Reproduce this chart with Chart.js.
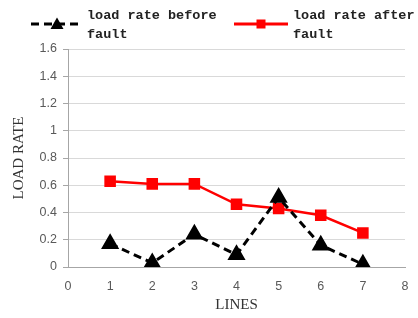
<!DOCTYPE html>
<html>
<head>
<meta charset="utf-8">
<script src="https://cdn.jsdelivr.net/npm/chart.js@4"></script>
<style>
  html, body { margin: 0; padding: 0; background: #fff; }
  #wrap { position: relative; width: 418px; height: 318px; }
  #legend { position: absolute; left: 0; top: 0; width: 418px; height: 48px; font: bold 13.5px "Liberation Mono", monospace; color: #222; }
  .item { position: absolute; top: 6px; display: flex; align-items: flex-start; }
  .item svg { margin-top: 10px; }
  .item span { line-height: 19px; white-space: pre; }
</style>
</head>
<body>
<div id="wrap">
  <canvas id="c" width="418" height="318"></canvas>
  <div id="legend">
    <div class="item" style="left:30px">
      <svg width="54" height="16"><line x1="1" y1="8" x2="53" y2="8" stroke="#000" stroke-width="3" stroke-dasharray="8,5"/><polygon points="27,1.5 33.5,13 20.5,13" fill="#000"/></svg>
      <span style="margin-left:3px">load rate before
fault</span>
    </div>
    <div class="item" style="left:234px">
      <svg width="54" height="16"><line x1="0" y1="8" x2="54" y2="8" stroke="#f00" stroke-width="3"/><rect x="22.5" y="3.5" width="9" height="9" fill="#f00"/></svg>
      <span style="margin-left:5px">load rate after
fault</span>
    </div>
  </div>
</div>
<script>
const lines = [1, 2, 3, 4, 5, 6, 7];
const beforeFault = [0.17, 0.03, 0.24, 0.09, 0.51, 0.16, 0.02];
const afterFault = [0.63, 0.61, 0.61, 0.46, 0.43, 0.38, 0.25];
const yTicks = [0, 0.2, 0.4, 0.6, 0.8, 1, 1.2, 1.4, 1.6];

const toXY = vals => vals.map((v, i) => ({ x: lines[i], y: v }));

new Chart(document.getElementById('c'), {
    type: 'line',
    data: {
        datasets: [
            {
                label: 'load rate before fault',
                data: toXY(beforeFault),
                borderColor: '#000',
                backgroundColor: '#000',
                borderWidth: 3,
                borderDash: [8, 5],
                pointStyle: 'triangle',
                pointRadius: 7.5,
                pointHoverRadius: 7.5,
                tension: 0
            },
            {
                label: 'load rate after fault',
                data: toXY(afterFault),
                borderColor: '#f00',
                backgroundColor: '#f00',
                borderWidth: 2.5,
                pointStyle: 'rect',
                pointRadius: 6.4,
                pointHoverRadius: 6.4,
                tension: 0
            }
        ]
    },
    options: {
        responsive: false,
        animation: false,
        layout: { padding: { top: 49, right: 13, left: 0, bottom: 0 } },
        plugins: { legend: { display: false }, tooltip: { enabled: false } },
        scales: {
            x: {
                type: 'linear', min: 0, max: 8,
                ticks: { stepSize: 1, color: '#595959', font: { family: 'Liberation Sans', size: 12.5 }, padding: 4 },
                grid: { display: false, drawTicks: true },
                border: { color: '#a6a6a6' },
                title: { display: true, text: 'LINES', color: '#333', font: { family: 'Liberation Serif', size: 15 }, padding: { top: 5 } },
                afterFit: s => { s.height = 51; }
            },
            y: {
                min: 0, max: 1.6,
                afterBuildTicks: s => { s.ticks = yTicks.map(v => ({ value: v })); },
                ticks: { color: '#595959', font: { family: 'Liberation Sans', size: 12.5 }, padding: 6, callback: v => String(v) },
                grid: { color: '#d9d9d9', tickColor: '#a6a6a6', tickLength: 5 },
                border: { color: '#a6a6a6' },
                title: { display: true, text: 'LOAD RATE', color: '#333', font: { family: 'Liberation Serif', size: 15 }, padding: { top: 10, bottom: 8 } },
                afterFit: s => { s.width = 68; }
            }
        }
    }
});
</script>
</body>
</html>
